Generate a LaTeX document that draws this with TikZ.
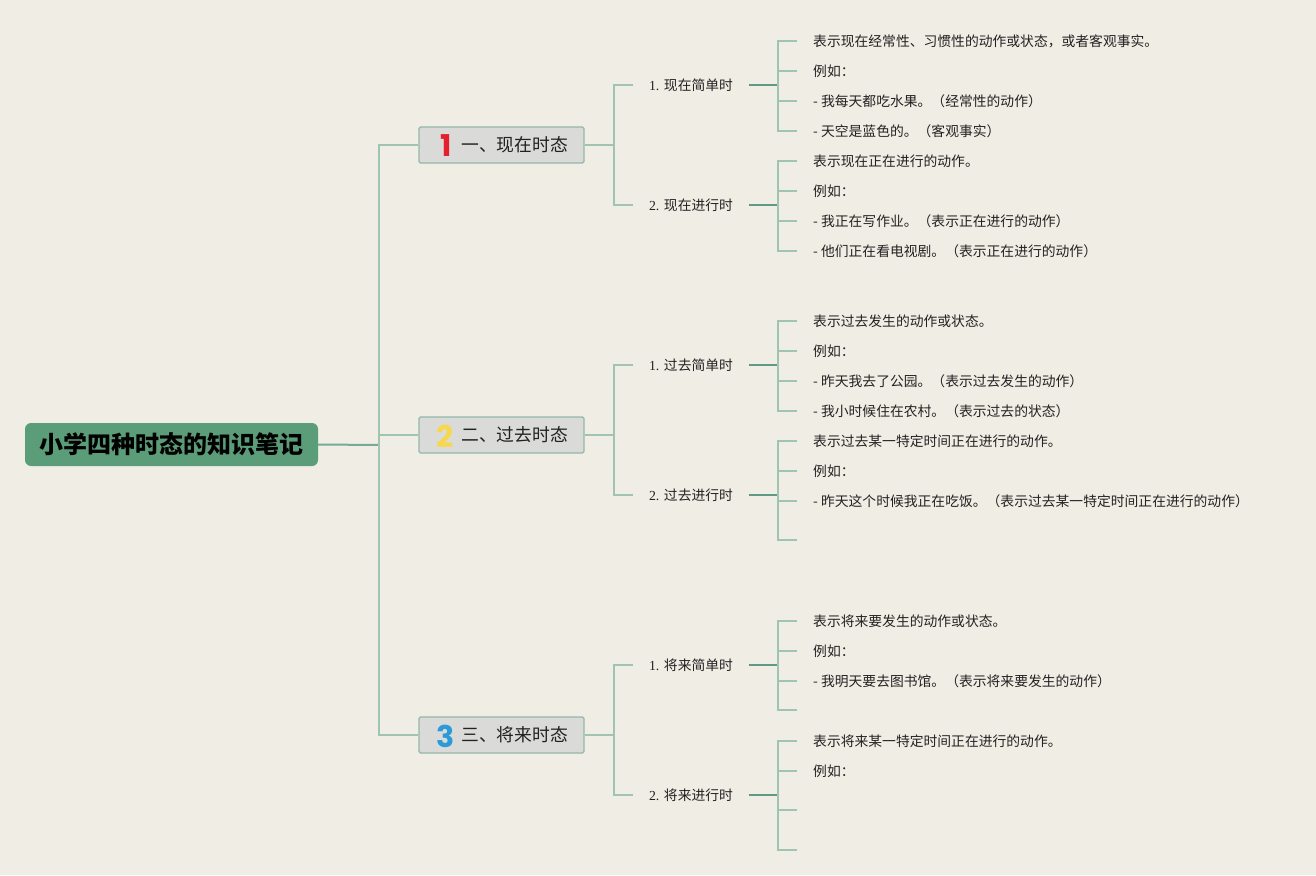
\documentclass[tikz,border=0pt]{standalone}
\usepackage{fontspec}
\setmainfont{Liberation Serif}
\newfontfamily\cjk{Noto Sans CJK SC}
\newfontfamily\numfont{Poppins}
\definecolor{bgc}{HTML}{F0EDE4}
\definecolor{rootfill}{HTML}{5B9C79}
\definecolor{lightln}{HTML}{9FC4B2}
\definecolor{darkln}{HTML}{5E9A86}
\definecolor{brfill}{HTML}{DADAD8}
\definecolor{brdraw}{HTML}{93B8A8}
\definecolor{txt}{HTML}{222222}
\definecolor{nred}{HTML}{E5202E}
\definecolor{nyellow}{HTML}{F6D84A}
\definecolor{nblue}{HTML}{2A9BD8}
\tikzset{
  rootbox/.style={fill=rootfill, rounded corners=6pt, minimum width=293pt, minimum height=43pt, inner sep=0pt,
    font=\cjk\bfseries\fontsize{24}{28}\selectfont, text=black},
  brbox/.style={fill=brfill, draw=brdraw, line width=1.3pt, rounded corners=1.5pt, minimum width=165pt, minimum height=36pt, inner sep=0pt},
  brnum/.style={font=\numfont\bfseries\fontsize{30}{32}\selectfont, inner sep=0pt},
  brtxt/.style={anchor=west, inner sep=0pt, font=\cjk\fontsize{17.8}{20}\selectfont, text=txt},
  subnode/.style={inner xsep=15.5pt, inner ysep=2pt, font=\fontsize{13.8}{16}\selectfont, text=txt},
  leaf/.style={anchor=west, inner xsep=16pt, inner ysep=2pt, font=\cjk\fontsize{13.8}{16}\selectfont, text=txt},
  lline/.style={draw=lightln, line width=1.4pt},
  dline/.style={draw=darkln, line width=2pt},
  rline/.style={draw=darkln!85, line width=2pt}
}
\begin{document}
\begin{tikzpicture}[x=1pt,y=-1pt]
\fill[bgc] (0,0) rectangle (1316,875);
\useasboundingbox (0,0) rectangle (1316,875);

% root
\node[rootbox] (root) at (171.5,444.5) {小学四种时态的知识笔记};

% branches
\node[brbox] (b1) at (501.5,145) {};
\node[brnum, text=nred] (n1) at (446.5,146) {1};
\node[brtxt] (t1) at (461,145) {一、现在时态};
\node[brbox] (b2) at (501.5,435) {};
\node[brnum, text=nyellow] (n2) at (445.5,436) {2};
\node[brtxt] (t2) at (461,435) {二、过去时态};
\node[brbox] (b3) at (501.5,735) {};
\node[brnum, text=nblue] (n3) at (446,736) {3};
\node[brtxt] (t3) at (461,735) {三、将来时态};

% sub nodes
\node[subnode] (s11) at (691,85) {1. {\cjk 现在简单时}};
\node[subnode] (s12) at (691,205) {2. {\cjk 现在进行时}};
\node[subnode] (s21) at (691,365) {1. {\cjk 过去简单时}};
\node[subnode] (s22) at (691,495) {2. {\cjk 过去进行时}};
\node[subnode] (s31) at (691,665) {1. {\cjk 将来简单时}};
\node[subnode] (s32) at (691,795) {2. {\cjk 将来进行时}};

% leaves
\node[leaf] (l111) at (797,41) {表示现在经常性、习惯性的动作或状态，或者客观事实。};
\node[leaf] (l112) at (797,71) {例如：};
\node[leaf] (l113) at (797,101) {- 我每天都吃水果。（经常性的动作）};
\node[leaf] (l114) at (797,131) {- 天空是蓝色的。（客观事实）};
\node[leaf] (l121) at (797,161) {表示现在正在进行的动作。};
\node[leaf] (l122) at (797,191) {例如：};
\node[leaf] (l123) at (797,221) {- 我正在写作业。（表示正在进行的动作）};
\node[leaf] (l124) at (797,251) {- 他们正在看电视剧。（表示正在进行的动作）};
\node[leaf] (l211) at (797,321) {表示过去发生的动作或状态。};
\node[leaf] (l212) at (797,351) {例如：};
\node[leaf] (l213) at (797,381) {- 昨天我去了公园。（表示过去发生的动作）};
\node[leaf] (l214) at (797,411) {- 我小时候住在农村。（表示过去的状态）};
\node[leaf] (l221) at (797,441) {表示过去某一特定时间正在进行的动作。};
\node[leaf] (l222) at (797,471) {例如：};
\node[leaf] (l223) at (797,501) {- 昨天这个时候我正在吃饭。（表示过去某一特定时间正在进行的动作）};
\coordinate (l224) at (797,540);
\node[leaf] (l311) at (797,621) {表示将来要发生的动作或状态。};
\node[leaf] (l312) at (797,651) {例如：};
\node[leaf] (l313) at (797,681) {- 我明天要去图书馆。（表示将来要发生的动作）};
\coordinate (l314) at (797,710);
\node[leaf] (l321) at (797,741) {表示将来某一特定时间正在进行的动作。};
\node[leaf] (l322) at (797,771) {例如：};
\coordinate (l323) at (797,810);
\coordinate (l324) at (797,850);

% root connectors
\coordinate (jr) at (379,445);
\draw[rline] (root.east) -- (jr);
\draw[lline] (b1.west) -- (379,145) -- (379,735) -- (b3.west);
\draw[lline] (379,435) -- (b2.west);

% branch connectors
\foreach \b/\ya/\yb in {1/85/205, 2/365/495, 3/665/795}{
  \draw[lline] (b\b.east) -- ++(30,0);
  \draw[lline] (s\b1.west) -- (614,\ya) -- (614,\yb) -- (s\b2.west);
}

% sub to leaf connectors
\foreach \s/\y in {11/85, 12/205, 21/365, 22/495, 31/665, 32/795}{
  \coordinate (j\s) at (778,\y);
  \draw[dline] (s\s.east) -- (j\s);
  \draw[lline] (l\s1.west) -- (j\s |- l\s1.west) -- (j\s |- l\s4.west) -- (l\s4.west);
  \draw[lline] (j\s |- l\s2.west) -- (l\s2.west);
  \draw[lline] (j\s |- l\s3.west) -- (l\s3.west);
}
\end{tikzpicture}
\end{document}
